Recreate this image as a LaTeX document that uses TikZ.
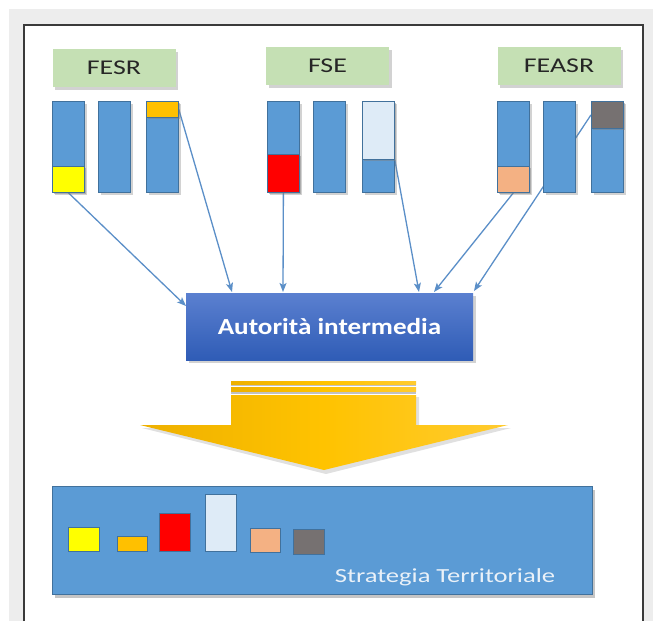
\documentclass[tikz,border=0pt]{standalone}
\usepackage{fontspec}
\setmainfont{Carlito}
\usepackage{graphicx}
\usetikzlibrary{shadows,arrows.meta}
\pgfdeclarelayer{back}
\pgfdeclarelayer{mid}
\pgfsetlayers{back,mid,main}
\definecolor{pagegray}{HTML}{EDEDED}
\definecolor{framec}{HTML}{3A3A3A}
\definecolor{labgreen}{HTML}{C5E0B4}
\definecolor{barblue}{HTML}{5B9BD5}
\definecolor{bordblue}{HTML}{41719C}
\definecolor{connc}{HTML}{5B8FC8}
\definecolor{cyellow}{HTML}{FFFF00}
\definecolor{corange}{HTML}{FFC000}
\definecolor{cred}{HTML}{FF0000}
\definecolor{clight}{HTML}{DEEBF7}
\definecolor{csalmon}{HTML}{F4B183}
\definecolor{cgray}{HTML}{767171}
\definecolor{authtop}{HTML}{5B80D0}
\definecolor{authbot}{HTML}{2F5CB6}
\definecolor{goldA}{HTML}{EEB000}
\definecolor{goldB}{HTML}{FFC300}
\definecolor{goldC}{HTML}{FFCB30}
\definecolor{stxt}{HTML}{EAF1F8}
\newcommand{\wide}[2][1.3]{\scalebox{#1}[1]{#2}}
\tikzset{
  shad/.style={drop shadow={opacity=0.35, shadow xshift=2.5pt, shadow yshift=-3pt}},
  lab/.style={fill=labgreen, minimum width=123pt, minimum height=38pt, inner sep=0pt,
    font=\fontsize{21}{25}\selectfont, text=black!85, shad},
  bar/.style={draw=bordblue, fill=barblue, line width=0.8pt, minimum width=32pt,
    minimum height=91pt, inner sep=0pt, anchor=north west, shad},
  blk/.style={draw=bordblue, line width=0.8pt, minimum width=32pt, inner sep=0pt,
    anchor=north west, drop shadow={opacity=0.45, shadow xshift=1.5pt, shadow yshift=-2pt}},
  sq/.style={draw=bordblue, line width=0.8pt, inner sep=0pt, anchor=north west},
  conn/.style={draw=connc, line width=1.3pt, -{Stealth[length=9pt,width=7pt,inset=2pt]}},
  auth/.style={top color=authtop, bottom color=authbot, minimum width=287pt,
    minimum height=67pt, inner sep=0pt, text=white,
    font=\fontsize{23}{27}\selectfont\bfseries, shad},
  sbox/.style={draw=bordblue, fill=barblue, line width=0.8pt, minimum width=540pt,
    minimum height=108pt, inner sep=0pt, anchor=north west,
    drop shadow={opacity=0.45, shadow xshift=3pt, shadow yshift=-4pt}},
  stext/.style={text=stxt, font=\fontsize{20}{24}\selectfont, inner sep=0pt}
}
\begin{document}
\begin{tikzpicture}[x=1pt,y=-1pt]
\useasboundingbox (0,0) rectangle (653,621);
\begin{pgfonlayer}{back}
\fill[white] (0,0) rectangle (653,621);
\fill[pagegray] (9,9) rectangle (653,621);
\fill[white] (24,25) rectangle (643,621);
\draw[framec, line width=1.2pt] (24,621) -- (24,25) -- (643,25) -- (643,621);
\end{pgfonlayer}

% fund labels
\node[lab] (fesr) at (114,68) {\raisebox{-1.5pt}{\wide[1.33]{FESR}}};
\node[lab] (fse) at (327.5,66) {\raisebox{-1.5pt}{\wide[1.33]{FSE}}};
\node[lab] (feasr) at (559,66) {\raisebox{-1.5pt}{\wide[1.33]{FEASR}}};

% bars
\node[bar] (b11) at (52,101) {};
\node[bar] (b12) at (98,101) {};
\node[bar] (b13) at (146,101) {};
\node[bar] (b21) at (267,101) {};
\node[bar] (b22) at (313,101) {};
\node[bar] (b23) at (362,101) {};
\node[bar] (b31) at (497,101) {};
\node[bar] (b32) at (543,101) {};
\node[bar] (b33) at (591,101) {};

% coloured parts
\node[blk, fill=cyellow, minimum height=26pt] (py) at (52,166) {};
\node[blk, fill=corange, minimum height=16pt] (po) at (146,101) {};
\node[blk, fill=cred, minimum height=38pt] (pr) at (267,154) {};
\node[blk, fill=clight, minimum height=58pt] (pl) at (362,101) {};
\node[blk, fill=csalmon, minimum height=26pt] (ps) at (497,166) {};
\node[blk, fill=cgray, minimum height=27pt] (pg) at (591,101) {};

% intermediate authority
\node[auth] (auth) at (329.5,326.5) {\raisebox{-4pt}{\wide[1.18]{Autorità intermedia}}};

\coordinate (e1) at (186,306);
\coordinate (e2) at (232,292);
\coordinate (e3) at (283,292);
\coordinate (e4) at (419,292);
\coordinate (e5) at (434,292);
\coordinate (e6) at (474,291);

\begin{pgfonlayer}{mid}
\draw[conn] (py.south) -- (e1);
\draw[conn] (po.east) -- (e2);
\draw[conn] (pr.south) -- (e3);
\draw[conn] (pl.south east) -- (e4);
\draw[conn] (ps.south) -- (e5);
\draw[conn] (pg.west) -- (e6);
\end{pgfonlayer}

% big yellow arrow
\fill[black, opacity=0.12] (233,397) -- (419,397) -- (419,428) -- (511,428) -- (326,474) -- (142,428) -- (233,428) -- cycle;
\fill[black!40, opacity=0.6] (231,383.5) rectangle (416,385.5);
\fill[black!40, opacity=0.6] (231,391) rectangle (416,394);
\shade[left color=goldA, right color=goldC, middle color=goldB] (231,381) rectangle (416,384);
\shade[left color=goldA, right color=goldC, middle color=goldB] (231,387) rectangle (416,391);
\shade[left color=goldA, right color=goldC, middle color=goldB]
  (231,395) -- (416,395) -- (416,425) -- (508,425) -- (324,470) -- (140,425) -- (231,425) -- cycle;

% territorial strategy
\node[sbox] (strat) at (52,486) {};
\node[sq, fill=cyellow, minimum width=31pt, minimum height=24pt] (sy) at (68,527) {};
\node[sq, fill=corange, minimum width=30pt, minimum height=15pt] (so) at (117,536) {};
\node[sq, fill=cred, minimum width=31pt, minimum height=38pt] (sr) at (159,513) {};
\node[sq, fill=clight, minimum width=31pt, minimum height=57pt] (sl) at (205,494) {};
\node[sq, fill=csalmon, minimum width=30pt, minimum height=24pt] (ss) at (250,528) {};
\node[sq, fill=cgray, minimum width=31pt, minimum height=25pt] (sg) at (293,529) {};
\node[stext] (stt) at (445,577) {\wide[1.33]{Strategia Territoriale}};
\end{tikzpicture}
\end{document}
